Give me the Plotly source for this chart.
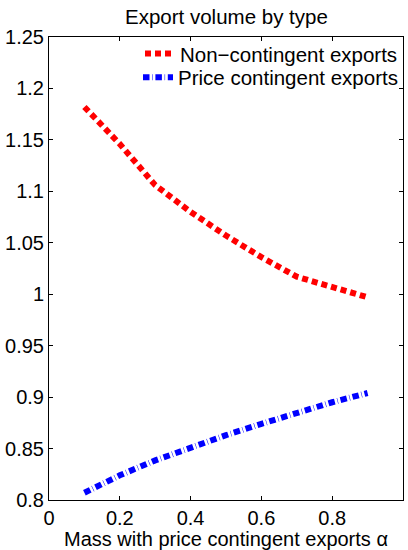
import plotly.graph_objects as go

# Mass of firms with price contingent exports
alpha = [0.1, 0.2, 0.3, 0.4, 0.5, 0.6, 0.7, 0.8, 0.9]

# Export volumes by contract type
non_contingent = [1.182, 1.146, 1.106, 1.080, 1.057, 1.036, 1.017, 1.007, 0.997]
price_contingent = [0.807, 0.824, 0.8385, 0.851, 0.863, 0.874, 0.885, 0.895, 0.904]

series_names = ["Non\u2212contingent exports", "Price contingent exports"]

x_ticks = [0, 0.2, 0.4, 0.6, 0.8, 1]
x_tick_text = ["0", "0.2", "0.4", "0.6", "0.8", "1"]
y_ticks = [0.8, 0.85, 0.9, 0.95, 1.0, 1.05, 1.1, 1.15, 1.2, 1.25]
y_tick_text = ["0.8", "0.85", "0.9", "0.95", "1", "1.05", "1.1", "1.15", "1.2", "1.25"]

FONT = "Liberation Sans, Arial, Helvetica, sans-serif"

fig = go.Figure()
fig.add_trace(go.Scatter(
    x=alpha, y=non_contingent, mode="lines", name=series_names[0],
    line=dict(color="#ff0000", width=6, dash="6px,4px"),
    legend="legend",
))
fig.add_trace(go.Scatter(
    x=alpha, y=price_contingent, mode="lines", name=series_names[1],
    line=dict(color="#0000ff", width=6, dash="6.5px,2.7px,0.5px,2.7px"),
    legend="legend2",
))

axis_common = dict(
    showgrid=False, zeroline=False,
    showline=True, linecolor="black", linewidth=1, mirror="allticks",
    ticks="inside", ticklen=4, tickcolor="black", tickwidth=1,
    tickfont=dict(family=FONT, size=20, color="black"),
)

fig.update_xaxes(
    range=[0, 1], tickvals=x_ticks, ticktext=x_tick_text,
    ticklabelstandoff=0,
    title=dict(text="Mass with price contingent exports \u03b1",
               font=dict(family=FONT, size=20, color="black"), standoff=3),
    **axis_common,
)
fig.update_yaxes(
    range=[0.8, 1.25], tickvals=y_ticks, ticktext=y_tick_text,
    ticklabelstandoff=0,
    **axis_common,
)

legend_style = dict(
    x=1, xanchor="right", yanchor="top",
    bgcolor="rgba(0,0,0,0)", borderwidth=0,
    font=dict(family=FONT, size=20.5, color="black"),
    itemwidth=30,
)

fig.update_layout(
    width=408, height=550,
    margin=dict(l=49, r=4, t=37, b=45),
    paper_bgcolor="white", plot_bgcolor="white",
    title=dict(text="Export volume by type", x=0.555, xanchor="center",
               y=0.969, yanchor="middle",
               font=dict(family=FONT, size=20.5, color="black")),
    legend=dict(y=1.007, **legend_style),
    legend2=dict(y=0.956, **legend_style),
    showlegend=True,
)

fig.write_html("out.html")
